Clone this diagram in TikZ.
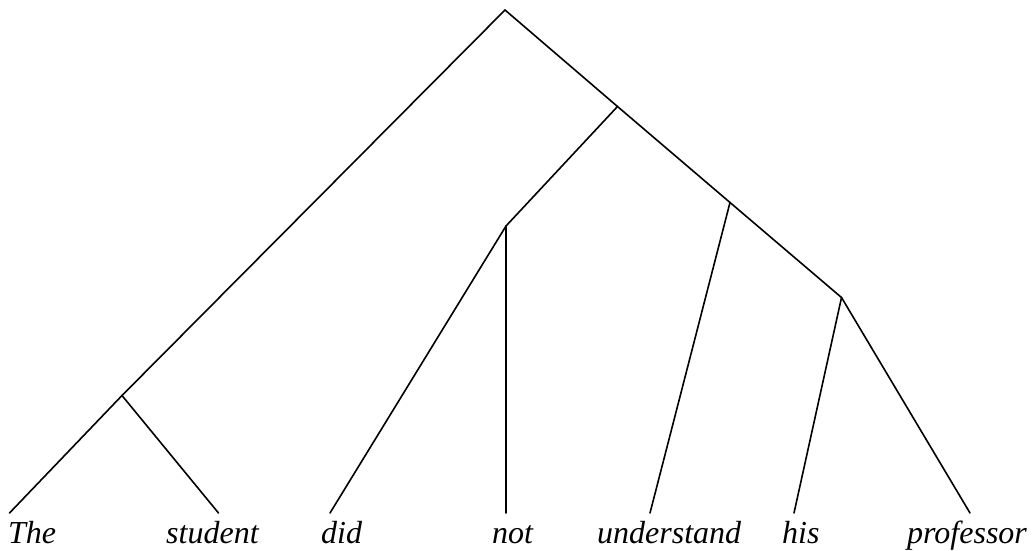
\documentclass[tikz,border=0pt]{standalone}
\usepackage{fontspec}
\setmainfont{Liberation Serif}
\begin{document}
\begin{tikzpicture}[x=1pt,y=-1pt,
  edge/.style={line width=1.6pt, line cap=round, line join=miter},
  word/.style={anchor=base west, inner sep=0pt, font=\fontsize{32}{38}\selectfont\itshape}]
\useasboundingbox (0,0) rectangle (1032,550);
% internal nodes
\coordinate (root) at (505,10);
\coordinate (A) at (617.5,106.5);
\coordinate (B) at (506,226);
\coordinate (C) at (730,202.5);
\coordinate (D) at (841.5,297.5);
\coordinate (E) at (122,395.5);
% leaf line ends
\coordinate (lThe) at (9.5,513);
\coordinate (lstudent) at (218.5,513);
\coordinate (ldid) at (330,513);
\coordinate (lnot) at (506,513);
\coordinate (lunderstand) at (650,513);
\coordinate (lhis) at (794,513);
\coordinate (lprofessor) at (970,513);
% words
\node[word] (wThe) at (8,543) {The};
\node[word] (wstudent) at (166,543) {student};
\node[word] (wdid) at (321,543) {did};
\node[word] (wnot) at (492,543) {not};
\node[word] (wunderstand) at (597,543) {understand};
\node[word] (whis) at (782,543) {his};
\node[word] (wprofessor) at (907,543) {professor};
% edges
\draw[edge] (root) -- (E);
\draw[edge] (E) -- (lThe);
\draw[edge] (E) -- (lstudent);
\draw[edge] (root) -- (A);
\draw[edge] (A) -- (B);
\draw[edge] (B) -- (ldid);
\draw[edge] (B) -- (lnot);
\draw[edge] (A) -- (C);
\draw[edge] (C) -- (D);
\draw[edge] (C) -- (lunderstand);
\draw[edge] (D) -- (lhis);
\draw[edge] (D) -- (lprofessor);
\end{tikzpicture}
\end{document}
